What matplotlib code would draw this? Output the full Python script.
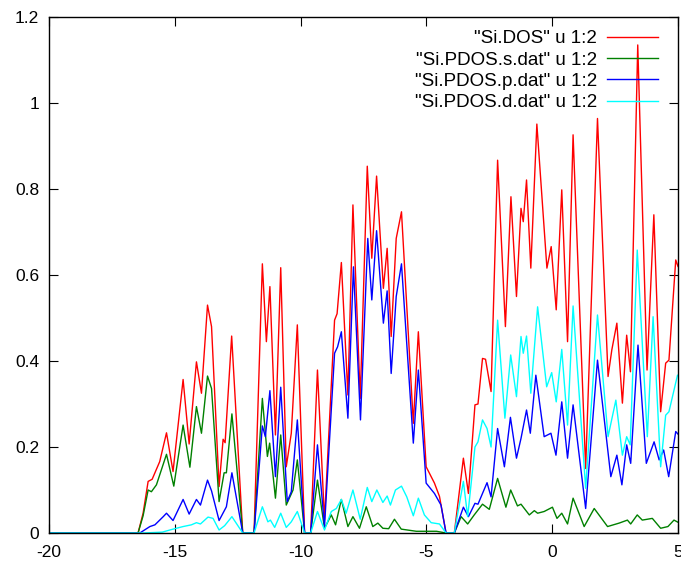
import matplotlib
matplotlib.use("Agg")
import matplotlib.pyplot as plt

plt.rcParams['font.family'] = ['Liberation Sans', 'DejaVu Sans']
plt.rcParams['axes.unicode_minus'] = False  # 用普通连字符做负号

# 总态密度 (energy, DOS)
dos_x = [-20, -16.46, -16.26, -16.06, -15.9, -15.6, -15.33, -15.07, -14.67, -14.43, -14.14,
         -13.94, -13.70, -13.54, -13.24, -13.08, -13.0, -12.74, -12.3, -11.85, -11.52,
         -11.36, -11.22, -11.0, -10.79, -10.57, -10.37, -10.13, -9.84, -9.6, -9.33, -9.05,
         -8.65, -8.55, -8.38, -8.12, -7.92, -7.63, -7.35, -7.17, -6.98, -6.71, -6.56, -6.40,
         -6.20, -5.99, -5.52, -5.32, -5.01, -4.68, -4.48, -4.22, -3.89, -3.53, -3.33, -3.07,
         -2.95, -2.77, -2.65, -2.43, -2.17, -1.86, -1.64, -1.42, -1.24, -1.15, -1.02, -0.85,
         -0.61, -0.21, -0.04, 0.16, 0.38, 0.61, 0.83, 1.33, 1.80, 2.22, 2.37, 2.57, 2.79,
         2.96, 3.11, 3.40, 3.77, 4.04, 4.31, 4.51, 4.64, 4.91, 5.0]
dos_y = [0, 0, 0.046, 0.12, 0.125, 0.166, 0.233, 0.143, 0.357, 0.207, 0.398,
         0.325, 0.53, 0.48, 0.108, 0.218, 0.21, 0.458, 0, 0, 0.626,
         0.445, 0.573, 0.228, 0.617, 0.154, 0.232, 0.484, 0, 0, 0.379, 0.03,
         0.495, 0.51, 0.629, 0.321, 0.763, 0.313, 0.853, 0.639, 0.830, 0.569, 0.662, 0.457,
         0.685, 0.747, 0.255, 0.468, 0.154, 0.116, 0.085, 0, 0, 0.174, 0.092, 0.298,
         0.30, 0.406, 0.404, 0.329, 0.867, 0.480, 0.782, 0.55, 0.755, 0.724, 0.821, 0.616,
         0.951, 0.616, 0.666, 0.519, 0.798, 0.445, 0.926, 0.150, 0.964, 0.364, 0.426, 0.488, 0.302,
         0.460, 0.375, 1.135, 0.379, 0.740, 0.282, 0.395, 0.402, 0.635, 0.62]

# s 轨道
s_x = [-20, -16.46, -16.26, -16.06, -15.93, -15.73, -15.33, -15.04, -14.67, -14.40, -14.14,
       -13.94, -13.70, -13.54, -13.24, -13.04, -12.95, -12.73, -12.3, -11.85, -11.52, -11.32,
       -11.23, -11.0, -10.79, -10.57, -10.30, -10.13, -9.84, -9.6, -9.33, -9.05, -8.78, -8.61,
       -8.38, -8.12, -7.92, -7.66, -7.39, -7.13, -6.93, -6.73, -6.5, -6.27, -6.0, -5.4, -4.6,
       -4.22, -3.89, -3.62, -3.36, -3.10, -2.77, -2.5, -2.17, -1.84, -1.65, -1.38, -1.24,
       -0.91, -0.71, -0.58, -0.32, 0.01, 0.19, 0.38, 0.61, 0.83, 1.27, 1.67, 2.2, 2.66,
       2.99, 3.12, 3.38, 3.58, 3.98, 4.31, 4.6, 4.84, 5.0]
s_y = [0, 0, 0.04, 0.10, 0.096, 0.112, 0.183, 0.109, 0.251, 0.153, 0.294,
       0.232, 0.365, 0.336, 0.073, 0.14, 0.14, 0.277, 0, 0, 0.313, 0.178,
       0.209, 0.081, 0.228, 0.065, 0.10, 0.170, 0, 0, 0.123, 0.011, 0.042, 0.019,
       0.078, 0.015, 0.038, 0.011, 0.061, 0.015, 0.023, 0.011, 0.01, 0.032, 0.009, 0.004, 0.004,
       0, 0, 0.038, 0.021, 0.042, 0.067, 0.055, 0.127, 0.06, 0.10, 0.063, 0.067,
       0.042, 0.052, 0.046, 0.05, 0.06, 0.034, 0.046, 0.021, 0.081, 0.015, 0.057, 0.015, 0.023,
       0.030, 0.021, 0.042, 0.03, 0.034, 0.011, 0.015, 0.03, 0.025]

# p 轨道
p_x = [-20, -16.39, -15.99, -15.79, -15.46, -15.33, -15.07, -14.67, -14.43, -14.14, -13.98,
       -13.70, -13.54, -13.24, -12.95, -12.73, -12.3, -11.85, -11.52, -11.40, -11.22, -11.0,
       -10.79, -10.53, -10.37, -10.13, -9.84, -9.6, -9.33, -9.05, -8.65, -8.53, -8.38, -8.12,
       -7.90, -7.62, -7.33, -7.17, -6.98, -6.71, -6.56, -6.40, -6.20, -5.99, -5.52, -5.32,
       -5.01, -4.68, -4.42, -4.22, -3.89, -3.53, -3.33, -3.07, -2.95, -2.59, -2.43, -2.17,
       -1.90, -1.66, -1.42, -1.24, -1.02, -0.87, -0.65, -0.32, -0.05, 0.15, 0.38, 0.61, 0.83,
       1.33, 1.80, 2.33, 2.57, 2.77, 2.96, 3.12, 3.41, 3.74, 4.05, 4.25, 4.43, 4.63, 4.91, 5.0]
p_y = [0, 0, 0.015, 0.019, 0.038, 0.046, 0.029, 0.078, 0.044, 0.078, 0.065,
       0.123, 0.098, 0.029, 0.061, 0.140, 0, 0, 0.249, 0.224, 0.331, 0.131,
       0.339, 0.073, 0.096, 0.263, 0, 0, 0.205, 0.015, 0.418, 0.433, 0.468, 0.267,
       0.619, 0.263, 0.685, 0.542, 0.703, 0.488, 0.563, 0.371, 0.55, 0.626, 0.209, 0.379,
       0.116, 0.092, 0.065, 0, 0, 0.06, 0.038, 0.069, 0.067, 0.117, 0.084, 0.243,
       0.154, 0.269, 0.174, 0.220, 0.286, 0.232, 0.367, 0.224, 0.232, 0.181, 0.305, 0.174, 0.298,
       0.057, 0.402, 0.131, 0.181, 0.112, 0.205, 0.162, 0.437, 0.162, 0.212, 0.170, 0.193, 0.131, 0.236, 0.23]

# d 轨道
d_x = [-20, -16.26, -15.5, -15.07, -14.67, -14.34, -14.14, -13.98, -13.68, -13.48, -13.24,
       -13.02, -12.73, -12.3, -11.85, -11.52, -11.30, -11.2, -11.03, -10.79, -10.57, -10.37,
       -10.13, -9.84, -9.6, -9.33, -9.05, -8.78, -8.58, -8.38, -8.19, -7.92, -7.63, -7.35,
       -7.17, -6.97, -6.73, -6.56, -6.43, -6.23, -5.99, -5.78, -5.52, -5.32, -5.08, -4.81,
       -4.48, -4.22, -3.89, -3.53, -3.36, -3.07, -2.95, -2.77, -2.59, -2.43, -2.17, -1.88,
       -1.65, -1.42, -1.24, -1.15, -1.02, -0.85, -0.58, -0.22, -0.02, 0.16, 0.38, 0.61, 0.83,
       1.33, 1.80, 2.22, 2.53, 2.79, 2.96, 3.10, 3.38, 3.78, 4.01, 4.31, 4.51, 4.64, 4.98, 5.0]
d_y = [0, 0, 0.002, 0.009, 0.015, 0.019, 0.024, 0.021, 0.037, 0.034, 0.007,
       0.017, 0.038, 0, 0, 0.061, 0.026, 0.03, 0.013, 0.046, 0.013, 0.026,
       0.05, 0, 0, 0.05, 0.007, 0.05, 0.057, 0.078, 0.046, 0.10, 0.032, 0.106,
       0.073, 0.10, 0.071, 0.086, 0.065, 0.10, 0.109, 0.084, 0.040, 0.081, 0.042, 0.024,
       0.021, 0, 0, 0.12, 0.038, 0.20, 0.212, 0.263, 0.243, 0.20, 0.495, 0.267,
       0.414, 0.317, 0.457, 0.418, 0.458, 0.325, 0.526, 0.340, 0.373, 0.305, 0.427, 0.251, 0.528,
       0.104, 0.507, 0.224, 0.309, 0.181, 0.224, 0.205, 0.658, 0.224, 0.503, 0.154, 0.274, 0.282, 0.367, 0.367]

labels = ['"Si.DOS" u 1:2', '"Si.PDOS.s.dat" u 1:2',
          '"Si.PDOS.p.dat" u 1:2', '"Si.PDOS.d.dat" u 1:2']
colors = ['#ff0000', '#008000', '#0000ff', '#00ffff']

fig = plt.figure(figsize=(6.81, 5.67), dpi=100)
ax = fig.add_axes([49 / 681, 34 / 567, 629 / 681, 516 / 567])

series = [(dos_x, dos_y), (s_x, s_y), (p_x, p_y), (d_x, d_y)]
for (xs, ys), c, lab in zip(series, colors, labels):
    ax.plot(xs, ys, color=c, lw=1.0, label=lab)

ax.set_xlim(-20, 5)
ax.set_ylim(0, 1.2)
ax.set_xticks([-20, -15, -10, -5, 0, 5])
ax.set_yticks([0, 0.2, 0.4, 0.6, 0.8, 1.0, 1.2])
ax.set_yticklabels(['0', '0.2', '0.4', '0.6', '0.8', '1', '1.2'])
ax.tick_params(direction='in', length=6.5, width=0.8, top=True, right=True,
               labelsize=12.5, colors='black')
ax.tick_params(axis='x', pad=8.5)
ax.tick_params(axis='y', pad=7)
for sp in ax.spines.values():
    sp.set_linewidth(1.0)

# gnuplot 风格图例：文字在左，线段在右
leg = ax.legend(loc='upper right', bbox_to_anchor=(658 / 681, 1 - 30 / 567),
                bbox_transform=fig.transFigure, frameon=False,
                markerfirst=False, fontsize=13.5, handlelength=2.72,
                handletextpad=0.53, labelspacing=0.23, borderpad=0, borderaxespad=0)

fig.savefig("out.png", dpi=100)
